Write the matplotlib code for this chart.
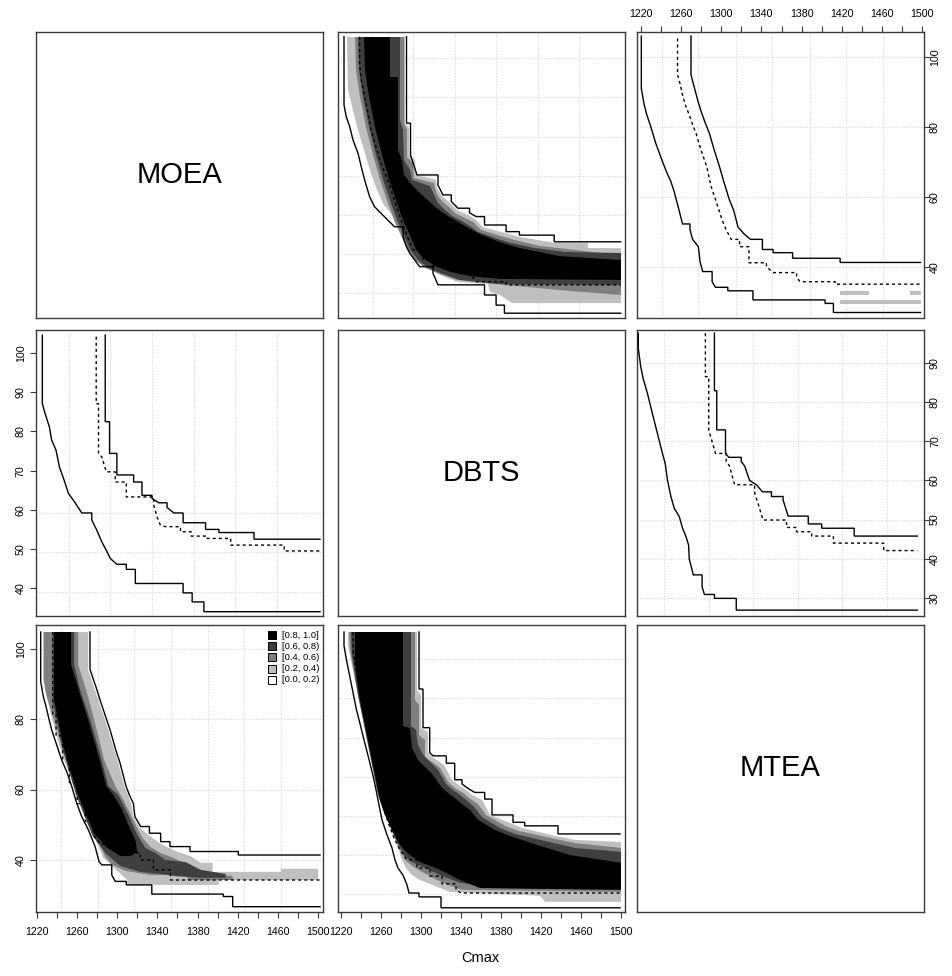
import matplotlib
matplotlib.use("Agg")
import matplotlib.pyplot as plt

plt.rcParams['font.family'] = ['Liberation Sans', 'DejaVu Sans']

W, H = 952, 976
fig = plt.figure(figsize=(W / 100, H / 100), dpi=100)

# ---------------------------------------------------------------- text / legend
algos = ['MOEA', 'DBTS', 'MTEA']
x_label = 'Cmax'
level_labels = ['[0.8, 1.0]', '[0.6, 0.8)', '[0.4, 0.6)', '[0.2, 0.4)', '[0.0, 0.2)']
level_colors = ['#000000', '#3F3F3F', '#7F7F7F', '#BFBFBF', '#FFFFFF']
x_ticks = list(range(1220, 1501, 20))
x_ticklabels = [str(t) if (t - 1220) % 40 == 0 else '' for t in x_ticks]
y_ticks_20 = [40, 60, 80, 100]
y_ticks_21 = [40, 50, 60, 70, 80, 90, 100]
y_ticks_23 = [30, 40, 50, 60, 70, 80, 90]

# ---------------------------------------------------------------- panel (1,2)
p12_best_x = [1223, 1225.3, 1228.7, 1232, 1237, 1240.2, 1243.6, 1248.6, 1253.6, 1260.2, 1266.8,
              1273.5, 1282.1, 1285.5, 1288.8, 1293.7, 1298.7, 1312, 1317, 1363.5, 1375.1, 1383.4]
p12_best_y = [86.3, 82.9, 80.1, 76.3, 72.5, 68.7, 64.9, 60.1, 57.2, 55.3, 53.4, 51.5, 48.7, 45.8,
              43.9, 42.0, 40.1, 38.2, 34.9, 32.0, 29.1, 26.8]
p12_med_x = [1238.6, 1240.2, 1243.6, 1247.0, 1250.2, 1255.0, 1260.2, 1265.0, 1270.1, 1275.0, 1280.1,
             1286.0, 1292.0, 1302.0, 1312.0, 1328.6, 1348.5, 1355.2, 1385.1]
p12_med_y = [98.2, 93.5, 88.7, 84.0, 79.1, 74.3, 69.6, 66.0, 62.0, 57.7, 53.4, 49.0, 44.9, 42.0,
             40.1, 39.1, 38.2, 35.8, 34.9]
p12_worst_x = [1285.5, 1289.5, 1296.0, 1317.0, 1321.9, 1330.3, 1336.9, 1348.5, 1355.2, 1363.5,
               1385.1, 1398.4, 1433.2]
p12_worst_y = [81.1, 72.0, 66.3, 63.4, 60.6, 58.7, 56.8, 55.5, 54.4, 52.0, 50.1, 49.1, 47.2]
p12_l02_lx = [1226, 1227, 1232, 1237, 1243, 1249, 1256, 1263, 1271, 1279, 1286, 1290, 1294, 1299,
              1307, 1319, 1337, 1367, 1369, 1379, 1391, 1500]
p12_l02_ly = [105.7, 90.6, 84.9, 79.1, 73.4, 67.7, 62.0, 57.7, 54.9, 52.0, 49.1, 46.3, 44.0, 42.0,
              40.0, 37.7, 35.7, 35.1, 32.9, 32.0, 29.7, 29.7]
p12_l02_ux = [1284, 1284, 1288, 1288, 1294, 1295, 1315, 1316, 1321, 1329, 1336, 1347, 1354, 1362,
              1384, 1398, 1434, 1467, 1467, 1500]
p12_l02_uy = [105.7, 81.1, 79.7, 72.0, 70.6, 66.3, 64.9, 62.6, 60.3, 58.3, 56.3, 54.9, 53.7, 51.4,
              49.7, 48.6, 46.9, 46.9, 45.4, 45.4]
p12_l04_lx = [1234, 1235, 1239, 1245, 1252, 1259, 1266, 1273, 1280, 1286, 1294, 1304, 1316, 1336,
              1376, 1439, 1500]
p12_l04_ly = [105.7, 96.0, 88.7, 80.0, 72.0, 65.0, 59.0, 53.4, 49.0, 45.0, 42.0, 39.8, 38.3, 36.3,
              35.1, 33.4, 32.0]
p12_l04_ux = [1283, 1283, 1286, 1286, 1292, 1293, 1313, 1315, 1319, 1327, 1334, 1344, 1352, 1360,
              1379, 1394, 1419, 1454, 1479, 1500]
p12_l04_uy = [105.7, 81.1, 79.1, 71.4, 69.7, 65.4, 64.0, 61.4, 59.4, 57.4, 55.4, 54.0, 52.9, 50.6,
              48.9, 47.7, 46.0, 44.9, 44.0, 44.0]
p12_l06_lx = [1237, 1238, 1242, 1248, 1255, 1262, 1269, 1276, 1283, 1289, 1297, 1307, 1319, 1339,
              1379, 1500]
p12_l06_ly = [105.7, 96.0, 88.7, 80.0, 72.0, 65.0, 59.0, 53.4, 49.0, 45.0, 42.0, 39.8, 38.3, 36.3,
              35.1, 34.9]
p12_l06_ux = [1279, 1279, 1282, 1283, 1289, 1291, 1309, 1313, 1317, 1324, 1331, 1341, 1349, 1357,
              1374, 1389, 1414, 1444, 1500]
p12_l06_uy = [105.7, 82.0, 79.1, 70.6, 67.7, 64.9, 63.1, 60.6, 58.3, 56.3, 54.6, 53.1, 51.7, 50.0,
              48.3, 46.9, 45.4, 44.3, 44.0]
p12_l08_lx = [1243, 1244, 1248, 1254, 1261, 1268, 1275, 1282, 1289, 1295, 1302, 1314, 1329, 1349,
              1379, 1500]
p12_l08_ly = [105.7, 96.0, 88.7, 80.0, 72.0, 65.0, 59.0, 53.4, 49.0, 45.0, 42.6, 40.3, 38.6, 37.4,
              36.6, 36.3]
p12_l08_ux = [1269, 1269, 1277, 1277, 1281, 1283, 1291, 1299, 1307, 1315, 1324, 1334, 1344, 1359,
              1379, 1399, 1439, 1500]
p12_l08_uy = [105.7, 94.3, 94.3, 73.4, 70.6, 66.3, 63.4, 61.1, 59.1, 56.9, 55.1, 53.4, 51.7, 49.4,
              47.1, 45.4, 43.1, 42.0]
p12_grid_x = [1251.6, 1292.0, 1333.6, 1375.1, 1416.6, 1457.5]
p12_grid_y = [99.6, 88.7, 77.2, 66.1, 54.9, 43.6, 32.5]

# ---------------------------------------------------------------- panel (1,3)
p13_best_x = [1220.6, 1223.3, 1225.6, 1230, 1235, 1241, 1245.6, 1250, 1253.3, 1257.6, 1261.6, 1269,
              1271.6, 1277.3, 1279, 1281.6, 1291, 1294.3, 1306.6, 1331.6, 1403.3, 1411.6]
p13_best_y = [91.0, 86.6, 83.9, 80.1, 75.3, 70.6, 67.2, 64.4, 61.5, 56.8, 52.3, 50.6, 47.9, 45.8,
              41.5, 38.7, 35.8, 34.2, 33.2, 30.6, 29.6, 27.0]
p13_med_x = [1256.6, 1259.0, 1261.6, 1265.0, 1268.3, 1271.5, 1275.0, 1280.0, 1285.6, 1290.0, 1295.6,
             1301.0, 1305.0, 1310.0, 1318.3, 1327.6, 1345.0, 1351.6, 1375.0, 1378.3, 1413.3]
p13_med_y = [95.0, 92.5, 89.1, 85.8, 83.4, 80.8, 78.2, 73.4, 68.7, 63.0, 58.2, 53.4, 50.6, 47.9,
             45.8, 41.2, 40.1, 38.4, 37.2, 35.8, 35.1]
p13_worst_x = [1270.0, 1273.3, 1276.6, 1280.0, 1284.0, 1288.3, 1293.0, 1298.3, 1303.0, 1308.3,
               1312.3, 1315.0, 1316.6, 1322.3, 1329.0, 1341.0, 1351.6, 1371.0, 1418.3]
p13_worst_y = [94.9, 91.3, 87.7, 84.5, 81.3, 78.2, 73.5, 68.7, 64.0, 59.1, 56.3, 53.4, 51.5, 49.6,
               47.9, 45.0, 44.1, 42.5, 41.3]
p13_bar_left = [1418.3, 1487.6, 1418.3]
p13_bar_right = [1446.6, 1498.3, 1498.3]
p13_bar_bottom = [32.0, 32.0, 29.5]
p13_bar_top = [33.2, 33.2, 30.7]
p13_grid_x = [1241.3, 1277.2, 1315.1, 1351.0, 1387.9, 1423.8, 1460.7]
p13_grid_y = [40, 60, 80, 100]

# ---------------------------------------------------------------- panel (2,1)
p21_best_x = [1225.3, 1228.0, 1232.3, 1234.6, 1239.0, 1242.3, 1247.0, 1251.3, 1258.0, 1264.6, 1274.6,
              1279.6, 1284.6, 1289.0, 1293.0, 1299.6, 1309.0, 1318.0, 1365.6, 1374.6, 1386.3]
p21_best_y = [87.1, 84.6, 81.2, 77.8, 75.2, 71.0, 67.6, 64.2, 61.8, 59.2, 57.4, 54.8, 51.8, 49.7,
              47.6, 46.1, 44.8, 41.2, 38.8, 36.5, 34.0]
p21_med_x = [1279.0, 1281.3, 1284.6, 1289.0, 1298.0, 1309.0, 1336.3, 1339.6, 1343.0, 1348.0, 1363.0,
             1373.6, 1389.6, 1413.0, 1466.3]
p21_med_y = [87.1, 74.4, 73.5, 69.7, 67.1, 63.3, 61.2, 58.2, 56.1, 55.7, 54.4, 53.3, 52.7, 51.0, 49.5]
p21_worst_x = [1288.0, 1292.3, 1299.6, 1316.3, 1324.6, 1334.6, 1341.3, 1349.6, 1356.3, 1365.6,
               1388.0, 1401.3, 1436.3]
p21_worst_y = [82.5, 74.4, 68.9, 67.1, 63.7, 62.9, 61.8, 60.6, 59.2, 56.7, 55.0, 54.2, 52.5]
p21_grid_x = [1251.9, 1292.7, 1334.9, 1376.4, 1417.3, 1458.8]
p21_grid_y = [39.1, 49.3, 59.2]

# ---------------------------------------------------------------- panel (2,3)
p23_best_x = [1217.6, 1220.0, 1222.3, 1226.6, 1231.6, 1236.6, 1241.6, 1244.3, 1246.6, 1250.0, 1253.3,
              1258.3, 1261.6, 1265.0, 1267.6, 1268.3, 1272.3, 1281.0, 1283.3, 1293.3, 1315.0]
p23_best_y = [93.7, 89.1, 86.1, 82.3, 77.1, 72.0, 66.9, 64.4, 60.1, 55.9, 52.9, 50.8, 47.8, 45.7,
              43.5, 39.9, 35.9, 32.9, 30.9, 29.9, 26.9]
p23_med_x = [1284.3, 1287.6, 1290.0, 1294.3, 1305.0, 1308.3, 1313.3, 1333.3, 1336.6, 1341.6, 1365.0,
             1375.0, 1390.0, 1411.6, 1461.6]
p23_med_y = [86.5, 72.9, 70.8, 66.9, 64.8, 63.7, 58.9, 56.8, 54.2, 49.9, 48.0, 46.9, 45.8, 44.0, 42.1]
p23_worst_x = [1293.3, 1295.6, 1304.3, 1307.6, 1320.0, 1323.3, 1328.3, 1335.0, 1341.0, 1350.0,
               1361.6, 1366.6, 1386.6, 1400.0, 1432.3]
p23_worst_y = [82.9, 72.9, 66.9, 65.9, 64.8, 63.7, 60.0, 58.9, 57.1, 55.9, 55.0, 50.9, 48.9, 47.8, 45.8]
p23_grid_x = [1243.3, 1287.5, 1332.1, 1376.3, 1420.6, 1464.5]
p23_grid_y = [30, 40, 50, 60, 70, 80, 90]

# ---------------------------------------------------------------- panel (3,1)
p31_best_x = [1223.7, 1226.3, 1229.0, 1231.3, 1234.6, 1239.6, 1244.6, 1249.6, 1254.6, 1259.6, 1264.6,
              1271.3, 1277.9, 1281.9, 1284.6, 1294.5, 1298.0, 1309.0, 1334.4, 1405.6, 1415.0]
p31_best_y = [90.7, 86.4, 83.6, 80.8, 77.0, 72.7, 68.4, 65.1, 60.9, 56.1, 52.3, 48.5, 43.8, 39.5,
              38.6, 35.7, 33.9, 32.9, 30.3, 29.6, 26.7]
p31_med_x = [1235.6, 1239.0, 1245.6, 1252.2, 1260.0, 1268.0, 1276.0, 1283.0, 1300.0, 1323.0, 1336.0, 1353.0]
p31_med_y = [81.5, 75.3, 68.7, 62.0, 56.0, 51.0, 47.0, 44.5, 42.0, 40.0, 37.2, 34.3]
p31_worst_x = [1272.8, 1276.0, 1279.0, 1282.8, 1286.0, 1289.0, 1292.8, 1296.0, 1299.0, 1302.7, 1305.5,
               1308.7, 1312.0, 1316.0, 1317.6, 1323.3, 1332.0, 1343.2, 1352.5, 1372.5, 1420.6]
p31_worst_y = [94.2, 91.5, 89.0, 85.5, 82.8, 80.2, 77.0, 73.8, 70.8, 67.6, 64.5, 61.0, 58.5, 56.1,
               52.3, 49.5, 47.6, 45.2, 43.8, 42.4, 41.4]
p31_l02_lx = [1226, 1226, 1229, 1232, 1234, 1238, 1242, 1247, 1252, 1257, 1262, 1267, 1274, 1281,
              1286, 1291, 1301, 1310, 1310, 1401, 1401, 1500]
p31_l02_ly = [104.8, 91.5, 86.7, 83.8, 81.2, 77.0, 72.7, 68.4, 65.0, 61.0, 56.2, 52.8, 48.5, 44.0,
              40.6, 39.4, 36.6, 34.3, 32.9, 32.9, 34.3, 34.3]
p31_l02_ux = [1271, 1271, 1281, 1291, 1301, 1307, 1314, 1316, 1322, 1330, 1341, 1350, 1361, 1373,
              1383, 1395, 1395, 1463, 1463, 1500]
p31_l02_uy = [104.8, 94.0, 85.5, 77.0, 67.6, 61.0, 56.0, 52.3, 49.3, 47.4, 45.0, 43.6, 42.2, 41.1,
              39.2, 39.2, 36.6, 36.6, 37.5, 37.5]
p31_l04_lx = [1227, 1227, 1230, 1233, 1236, 1240, 1244, 1249, 1254, 1259, 1264, 1269, 1276, 1283,
              1288, 1295, 1308, 1333, 1370, 1370, 1415]
p31_l04_ly = [104.8, 90.9, 86.4, 83.5, 80.7, 77.0, 72.7, 68.4, 65.0, 60.8, 55.9, 52.2, 48.3, 44.0,
              40.9, 38.6, 36.9, 35.7, 35.7, 34.3, 34.3]
p31_l04_ux = [1261, 1261, 1269, 1277, 1287, 1298, 1306, 1313, 1319, 1325, 1333, 1343, 1353, 1363,
              1373, 1383, 1415]
p31_l04_uy = [104.8, 95.5, 88.3, 79.8, 68.4, 61.0, 57.1, 53.1, 49.5, 46.3, 43.7, 42.0, 40.9, 39.7,
              37.8, 36.3, 35.4]
p31_l06_lx = [1235.5, 1235.5, 1239.5, 1244.5, 1251.5, 1259, 1267, 1275, 1288, 1303, 1323, 1343,
              1358, 1383, 1408]
p31_l06_ly = [104.8, 85.5, 79.8, 72.7, 65.6, 58.5, 52.8, 47.1, 42.0, 38.3, 36.6, 36.0, 35.4, 34.9, 34.9]
p31_l06_ux = [1257, 1257, 1263, 1273, 1283, 1291, 1301, 1311, 1320, 1328, 1338, 1348, 1368, 1383, 1408]
p31_l06_uy = [104.8, 95.5, 88.3, 79.8, 69.9, 61.0, 58.5, 52.8, 47.1, 43.4, 42.0, 40.0, 39.4, 37.2, 36.0]
p31_l08_lx = [1237, 1237, 1241, 1246, 1253, 1261, 1269, 1278, 1290, 1303, 1313]
p31_l08_ly = [104.8, 85.5, 79.8, 72.7, 65.6, 58.5, 52.8, 47.1, 43.4, 41.1, 41.1]
p31_l08_ux = [1254, 1254, 1263, 1271, 1281, 1289, 1296, 1305, 1311, 1318, 1320, 1313]
p31_l08_uy = [104.8, 95.5, 87.0, 79.8, 69.9, 61.0, 58.5, 54.2, 50.0, 45.7, 42.3, 41.1]
p31_grid_x = [1243.9, 1280.5, 1316.9, 1353.5, 1390.1, 1426.6, 1463.1]
p31_grid_y = [40, 60, 80, 100]

# ---------------------------------------------------------------- panel (3,2)
p32_best_x = [1223, 1225.3, 1228.7, 1232, 1235.3, 1238.7, 1242, 1245.3, 1248.7, 1252, 1255, 1258,
              1261, 1266, 1271, 1274, 1277, 1282, 1286, 1288, 1298, 1320]
p32_best_y = [100.9, 97.1, 92.3, 87.6, 82.9, 79.1, 75.3, 71.6, 67.8, 64.0, 60.0, 55.6, 51.4, 47.1,
              43.4, 40.0, 37.7, 35.7, 32.9, 30.6, 29.5, 26.4]
p32_med_x = [1232, 1235, 1239, 1243, 1247, 1251, 1255, 1259, 1263, 1268, 1273, 1279, 1286, 1296,
             1309, 1321, 1335, 1340]
p32_med_y = [99.7, 94.0, 88.3, 82.7, 77.0, 71.3, 65.6, 59.9, 54.2, 50.0, 46.3, 42.8, 40.0, 37.7,
             35.4, 33.2, 31.5, 30.6]
p32_worst_x = [1298, 1302, 1308.7, 1312, 1325.3, 1333.7, 1341, 1347.7, 1353.7, 1363.7, 1371, 1392,
               1403.7, 1437]
p32_worst_y = [88.6, 77.6, 70.5, 69.6, 67.5, 62.8, 61.6, 60.2, 59.2, 57.3, 52.8, 50.7, 49.7, 47.4]
p32_l02_lx = [1227, 1227, 1230, 1233, 1236, 1240, 1243, 1247, 1250, 1254, 1257, 1260, 1263, 1267,
              1272, 1277, 1281, 1285, 1291, 1299, 1309, 1319, 1329, 1419, 1424, 1500]
p32_l02_ly = [104.8, 100.9, 96.9, 92.3, 87.8, 82.9, 79.0, 75.3, 71.6, 67.6, 63.9, 59.9, 55.6, 51.4,
              47.1, 43.4, 40.0, 37.7, 35.7, 34.3, 33.2, 32.0, 30.9, 29.8, 28.1, 28.1]
p32_l02_ux = [1296, 1296, 1300, 1300, 1307, 1307, 1311, 1323, 1331, 1339, 1345, 1351, 1361, 1369,
              1389, 1401, 1435, 1454, 1500]
p32_l02_uy = [104.8, 88.3, 86.9, 77.5, 76.4, 70.4, 69.3, 67.0, 62.8, 61.0, 59.9, 58.5, 57.1, 52.8,
              50.5, 49.1, 46.8, 45.7, 45.1]
p32_l04_lx = [1228, 1229, 1231, 1234, 1237, 1241, 1244, 1248, 1251, 1255, 1258, 1261, 1265, 1269,
              1274, 1279, 1284, 1291, 1301, 1314, 1327, 1341, 1500]
p32_l04_ly = [104.8, 99.7, 96.3, 91.8, 87.3, 82.4, 78.7, 74.7, 71.0, 67.0, 63.3, 59.3, 55.1, 50.8,
              46.5, 42.8, 40.0, 38.3, 36.6, 34.6, 32.9, 31.5, 30.9]
p32_l04_ux = [1294, 1294, 1298, 1298, 1304, 1304, 1319, 1327, 1335, 1342, 1348, 1357, 1365, 1384,
              1397, 1429, 1454, 1500]
p32_l04_uy = [104.8, 85.5, 84.1, 75.5, 74.1, 69.3, 66.2, 62.2, 60.2, 59.1, 57.6, 55.9, 52.8, 49.7,
              48.3, 46.3, 44.8, 43.4]
p32_l06_lx = [1230, 1231, 1234, 1237, 1241, 1245, 1249, 1253, 1257, 1262, 1269, 1276, 1283, 1291,
              1304, 1319, 1339, 1379, 1500]
p32_l06_ly = [104.8, 98.3, 92.6, 86.9, 81.2, 75.5, 69.9, 64.2, 58.5, 54.2, 49.7, 45.1, 41.4, 39.4,
              37.7, 35.7, 33.5, 32.0, 31.5]
p32_l06_ux = [1290, 1290, 1295, 1297, 1302, 1317, 1325, 1332, 1339, 1345, 1353, 1361, 1379, 1394,
              1424, 1454, 1500]
p32_l06_uy = [104.8, 78.1, 77.0, 72.7, 69.9, 65.6, 61.6, 59.9, 58.5, 57.1, 55.1, 52.2, 49.1, 47.4,
              45.4, 43.4, 42.3]
p32_l08_lx = [1234, 1234, 1236, 1239, 1243, 1247, 1251, 1255, 1259, 1264, 1271, 1277, 1285, 1299,
              1319, 1339, 1359, 1500]
p32_l08_ly = [104.8, 96.9, 91.2, 85.5, 79.8, 74.1, 68.4, 62.8, 57.1, 52.8, 48.5, 45.1, 42.3, 39.4,
              37.2, 34.3, 32.0, 31.5]
p32_l08_ux = [1282, 1282, 1289, 1291, 1297, 1311, 1321, 1328, 1335, 1341, 1349, 1357, 1374, 1389,
              1419, 1449, 1500]
p32_l08_uy = [104.8, 78.1, 77.5, 71.9, 68.4, 64.5, 60.5, 58.8, 57.4, 55.9, 54.2, 51.4, 48.5, 46.8,
              44.0, 41.4, 39.2]
p32_grid_x = []
p32_grid_y = [97.1, 86.0, 74.8, 63.7, 52.5, 41.3, 30.2]

# ---------------------------------------------------------------- layout
COL_PX = [(36, 323), (338, 625), (637, 924)]
ROW_PX = [(32, 318), (330, 616), (625, 912)]
XLIM = [(1219.0, 1505.0), (1217.0, 1504.0), (1216.3, 1501.7)]
YLIM = {(0, 1): (25.43, 107.14), (0, 2): (25.43, 107.14),
        (1, 0): (32.9, 105.9), (1, 2): (25.4, 98.4),
        (2, 0): (25.2, 106.8), (2, 1): (25.2, 106.8)}
EDGE = '#3a3a3a'
GRIDC = '#d6d6d6'
SMALL_DX, SMALL_DY = 7.0, 6.0   # tiny staircase steps are rendered as a slope


def make_ax(r, c):
    l, rr = COL_PX[c]
    t, b = ROW_PX[r]
    ax = fig.add_axes([l / W, 1 - b / H, (rr - l) / W, (b - t) / H])
    ax.set_xticks([])
    ax.set_yticks([])
    for s in ax.spines.values():
        s.set_color(EDGE)
        s.set_linewidth(1.0)
    ax.tick_params(length=4.3, width=0.8, color=EDGE, labelsize=7.7)
    ax.tick_params(axis='x', pad=6.3)
    ax.tick_params(axis='y', pad=3.0)
    return ax


def grid(ax, gx, gy):
    for v in gx:
        ax.axvline(v, color=GRIDC, lw=0.8, ls=(0, (1, 1.5)), zorder=0.5)
    for v in gy:
        ax.axhline(v, color=GRIDC, lw=0.8, ls=(0, (1, 1.5)), zorder=0.5)


def stair(ax, xs, ys, top, xend, dashed=False):
    X = [xs[0], xs[0]]
    Y = [top, ys[0]]
    for i in range(1, len(xs)):
        dx = xs[i] - xs[i - 1]
        dy = ys[i - 1] - ys[i]
        if not (dx <= SMALL_DX and dy <= SMALL_DY):
            X.append(xs[i])
            Y.append(ys[i - 1])
        X.append(xs[i])
        Y.append(ys[i])
    X.append(xend)
    Y.append(ys[-1])
    ax.plot(X, Y, color='black', lw=1.0, solid_joinstyle='miter',
            ls=(0, (2.2, 2.2)) if dashed else '-', zorder=4)


def band(ax, lx, ly, ux, uy, color):
    ax.fill(list(lx) + list(ux)[::-1], list(ly) + list(uy)[::-1],
            facecolor=color, edgecolor='none', lw=0, zorder=1.5)


def rot_labels(ax):
    for lab in ax.get_yticklabels():
        lab.set_rotation(90)
        lab.set_va('center')


axes = {}
for r in range(3):
    for c in range(3):
        ax = make_ax(r, c)
        axes[(r, c)] = ax
        if r == c:
            ax.set_xlim(0, 1)
            ax.set_ylim(0, 1)
            ax.text(0.5, 0.5, algos[r], ha='center', va='center', fontsize=21)
        else:
            ax.set_xlim(*XLIM[c])
            ax.set_ylim(*YLIM[(r, c)])

# (1,2)
ax = axes[(0, 1)]
grid(ax, p12_grid_x, p12_grid_y)
band(ax, p12_l02_lx, p12_l02_ly, p12_l02_ux, p12_l02_uy, level_colors[3])
band(ax, p12_l04_lx, p12_l04_ly, p12_l04_ux, p12_l04_uy, level_colors[2])
band(ax, p12_l06_lx, p12_l06_ly, p12_l06_ux, p12_l06_uy, level_colors[1])
band(ax, p12_l08_lx, p12_l08_ly, p12_l08_ux, p12_l08_uy, level_colors[0])
stair(ax, p12_best_x, p12_best_y, 105.8, 1499.7)
stair(ax, p12_med_x, p12_med_y, 105.8, 1499.7, dashed=True)
stair(ax, p12_worst_x, p12_worst_y, 105.8, 1499.7)

# (1,3)
ax = axes[(0, 2)]
grid(ax, p13_grid_x, p13_grid_y)
for x0, x1, y0, y1 in zip(p13_bar_left, p13_bar_right, p13_bar_bottom, p13_bar_top):
    ax.fill([x0, x1, x1, x0], [y0, y0, y1, y1], facecolor=level_colors[3], edgecolor='none', zorder=1.5)
stair(ax, p13_best_x, p13_best_y, 106.0, 1498.3)
stair(ax, p13_med_x, p13_med_y, 105.3, 1498.3, dashed=True)
stair(ax, p13_worst_x, p13_worst_y, 106.0, 1498.3)
ax.xaxis.tick_top()
ax.set_xticks(x_ticks, x_ticklabels)
ax.tick_params(axis='x', pad=5.0)
ax.yaxis.tick_right()
ax.set_yticks(y_ticks_20, [str(v) for v in y_ticks_20])
ax.tick_params(axis='y', pad=0.0)
rot_labels(ax)

# (2,1)
ax = axes[(1, 0)]
grid(ax, p21_grid_x, p21_grid_y)
stair(ax, p21_best_x, p21_best_y, 104.6, 1502.0)
stair(ax, p21_med_x, p21_med_y, 104.2, 1502.0, dashed=True)
stair(ax, p21_worst_x, p21_worst_y, 104.6, 1502.0)
ax.set_yticks(y_ticks_21, [str(v) for v in y_ticks_21])
rot_labels(ax)

# (2,3)
ax = axes[(1, 2)]
grid(ax, p23_grid_x, p23_grid_y)
stair(ax, p23_best_x, p23_best_y, 97.6, 1495.0)
stair(ax, p23_med_x, p23_med_y, 97.6, 1495.0, dashed=True)
stair(ax, p23_worst_x, p23_worst_y, 97.6, 1495.0)
ax.yaxis.tick_right()
ax.set_yticks(y_ticks_23, [str(v) for v in y_ticks_23])
ax.tick_params(axis='y', pad=0.0)
rot_labels(ax)

# (3,1)
ax = axes[(2, 0)]
grid(ax, p31_grid_x, p31_grid_y)
band(ax, p31_l02_lx, p31_l02_ly, p31_l02_ux, p31_l02_uy, level_colors[3])
band(ax, p31_l04_lx, p31_l04_ly, p31_l04_ux, p31_l04_uy, level_colors[2])
band(ax, p31_l06_lx, p31_l06_ly, p31_l06_ux, p31_l06_uy, level_colors[1])
band(ax, p31_l08_lx, p31_l08_ly, p31_l08_ux, p31_l08_uy, level_colors[0])
stair(ax, p31_best_x, p31_best_y, 104.8, 1502.0)
stair(ax, p31_med_x, p31_med_y, 104.8, 1502.0, dashed=True)
stair(ax, p31_worst_x, p31_worst_y, 104.8, 1502.0)
ax.set_xticks(x_ticks, x_ticklabels)
ax.set_yticks(y_ticks_20, [str(v) for v in y_ticks_20])
rot_labels(ax)
leg_y = [0.965, 0.926, 0.887, 0.848, 0.809]
for lab, col, yy in zip(level_labels, level_colors, leg_y):
    ax.plot([0.822], [yy], marker='s', ms=5.4, mfc=col, mec='black', mew=0.7,
            transform=ax.transAxes, zorder=6, clip_on=False)
    ax.text(0.858, yy, lab, transform=ax.transAxes, fontsize=6.8, va='center', ha='left', zorder=6)

# (3,2)
ax = axes[(2, 1)]
grid(ax, p32_grid_x, p32_grid_y)
band(ax, p32_l02_lx, p32_l02_ly, p32_l02_ux, p32_l02_uy, level_colors[3])
band(ax, p32_l04_lx, p32_l04_ly, p32_l04_ux, p32_l04_uy, level_colors[2])
band(ax, p32_l06_lx, p32_l06_ly, p32_l06_ux, p32_l06_uy, level_colors[1])
band(ax, p32_l08_lx, p32_l08_ly, p32_l08_ux, p32_l08_uy, level_colors[0])
stair(ax, p32_best_x, p32_best_y, 104.8, 1499.0)
stair(ax, p32_med_x, p32_med_y, 104.8, 1499.0, dashed=True)
stair(ax, p32_worst_x, p32_worst_y, 104.8, 1499.0)
ax.set_xticks(x_ticks, x_ticklabels)

fig.text(480 / W, 1 - 958 / H, x_label, ha='center', va='center', fontsize=10.5)

fig.savefig('out.png', dpi=100)
